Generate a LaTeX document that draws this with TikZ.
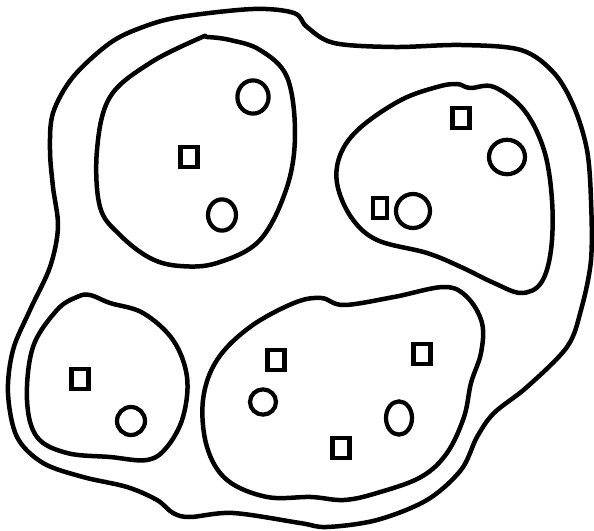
\documentclass[tikz,border=0pt]{standalone}
\usetikzlibrary{shapes.geometric}
\begin{document}
\begin{tikzpicture}[
        x=0.025cm,
        y=-0.025cm,
        region/.style={
            draw=black,
            line width=3.2pt,
            line join=round
        },
        cuadro/.style={
            rectangle,
            draw=black,
            line width=3pt,
            minimum width=4.3mm,
            minimum height=5mm,
            inner sep=0pt
        },
        ovalo/.style={
            ellipse,
            draw=black,
            line width=3pt,
            inner sep=0pt
        }
    ]
    \useasboundingbox (0,0) rectangle (594,531);

    % Contorno exterior
    \draw[region] plot[smooth cycle, tension=0.55] coordinates {
        (180,17) (253,9) (294,13) (307,27) (334,43) (394,47) (461,45)
        (521,50) (554,73) (574,107) (587,150) (591,200) (591,260)
        (581,310) (567,347) (527,387) (494,413) (477,437) (461,470)
        (427,500) (377,520) (327,527) (300,523) (233,513) (190,517)
        (173,513) (157,500) (127,487) (83,477) (43,463) (17,437)
        (8,393) (13,350) (30,310) (50,267) (58,227) (53,187) (50,150)
        (53,113) (73,77) (110,43) (143,27)};

    % Regiones interiores
    \draw[region] plot[smooth cycle, tension=0.6] coordinates {
        (207,37) (230,40) (260,50) (287,77) (295,133) (287,187)
        (260,240) (217,263) (180,266) (150,258) (120,235) (100,207)
        (97,150) (110,97) (150,63) (200,38)};
    \draw[region] plot[smooth cycle, tension=0.6] coordinates {
        (437,87) (457,84) (470,88) (494,87) (524,110) (544,150)
        (552,200) (551,250) (541,283) (521,293) (494,283) (461,267)
        (427,253) (377,240) (351,217) (337,183) (341,153) (361,127)
        (401,100)};
    \draw[region] plot[smooth cycle, tension=0.6] coordinates {
        (90,295) (110,303) (143,313) (173,340) (187,377) (183,417)
        (167,447) (147,460) (110,457) (67,453) (37,437) (27,400)
        (33,347) (57,310) (77,297)};
    \draw[region] plot[smooth cycle, tension=0.6] coordinates {
        (294,303) (321,298) (344,305) (394,297) (444,287) (467,297)
        (482,323) (481,353) (471,383) (464,417) (447,453) (421,477)
        (377,493) (344,500) (311,497) (267,497) (227,480) (207,447)
        (203,400) (217,360) (250,327)};

    % Cuadrados
    \node[cuadro] (a1) at (189,157) {};
    \node[cuadro] (b1) at (461,118) {};
    \node[cuadro, minimum width=3.6mm] (b2) at (380,208) {};
    \node[cuadro] (c1) at (80,379) {};
    \node[cuadro] (d1) at (276,360) {};
    \node[cuadro] (d2) at (422,354) {};
    \node[cuadro] (d3) at (341,448) {};

    % Círculos
    \node[ovalo, minimum width=7.8mm, minimum height=8.3mm] (a2) at (253,97)  {};
    \node[ovalo, minimum width=7mm,   minimum height=7.8mm] (a3) at (222,215) {};
    \node[ovalo, minimum width=9mm,   minimum height=8.6mm] (b3) at (507,157) {};
    \node[ovalo, minimum width=8.5mm, minimum height=8.5mm] (b4) at (413,211) {};
    \node[ovalo, minimum width=7mm,   minimum height=7mm]   (c2) at (131,421) {};
    \node[ovalo, minimum width=6.5mm, minimum height=6.3mm] (d4) at (263,402) {};
    \node[ovalo, minimum width=6.5mm, minimum height=8.3mm] (d5) at (399,418) {};

\end{tikzpicture}
\end{document}
